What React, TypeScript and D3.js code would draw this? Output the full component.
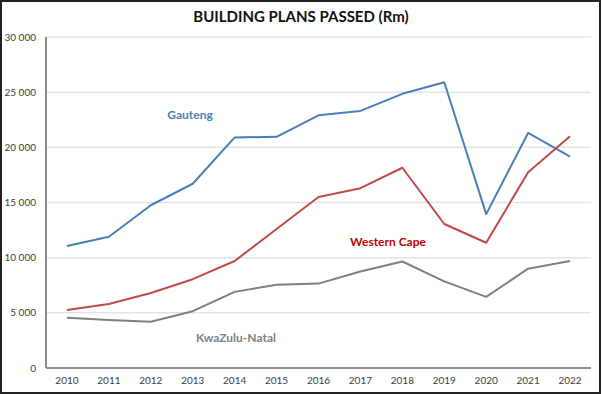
import { useEffect, useRef } from 'react'
import * as d3 from 'd3'

const years = ['2010', '2011', '2012', '2013', '2014', '2015', '2016', '2017', '2018', '2019', '2020', '2021', '2022']
const gauteng = [11050, 11900, 14750, 16700, 20900, 20950, 22900, 23300, 24850, 25900, 13950, 21300, 19150]
const westernCape = [5250, 5800, 6800, 8050, 9700, 12600, 15500, 16300, 18150, 13050, 11350, 17750, 21000]
const kwaZuluNatal = [4550, 4350, 4200, 5150, 6900, 7550, 7650, 8750, 9650, 7850, 6450, 9000, 9700]
const yTicks = [0, 5000, 10000, 15000, 20000, 25000, 30000]

const series = [
  { name: 'Gauteng', values: gauteng, color: '#4a7ebb', label: { x: 190, y: 115 }, labelColor: '#4a7ebb' },
  { name: 'Western Cape', values: westernCape, color: '#be4b48', label: { x: 388, y: 242 }, labelColor: '#c00000' },
  { name: 'KwaZulu-Natal', values: kwaZuluNatal, color: '#7f7f7f', label: { x: 236, y: 338 }, labelColor: '#7f7f7f' },
]

const W = 602
const H = 394
const FONT = 'Lato, "Open Sans", sans-serif'

function fmt(v: number) {
  return v === 0 ? '0' : d3.format(',')(v).replace(/,/g, ' ')
}

export default function App() {
  const svgRef = useRef<SVGSVGElement>(null)

  useEffect(() => {
    const svg = d3.select(svgRef.current)
    svg.selectAll('*').remove()

    const margin = { top: 37, right: 11, bottom: 26, left: 46 }
    const innerW = W - margin.left - margin.right
    const innerH = H - margin.top - margin.bottom

    svg.append('rect')
      .attr('x', 1).attr('y', 1).attr('width', W - 3).attr('height', H - 2)
      .attr('fill', '#fff').attr('stroke', '#222').attr('stroke-width', 2)

    svg.append('text')
      .attr('x', 301).attr('y', 22)
      .attr('text-anchor', 'middle')
      .attr('font-family', FONT).attr('font-weight', 700).attr('font-size', 15)
      .attr('fill', '#111')
      .text('BUILDING PLANS PASSED (Rm)')

    const g = svg.append('g').attr('transform', `translate(${margin.left},${margin.top})`)

    const x = d3.scaleBand().domain(years).range([0, innerW])
    const y = d3.scaleLinear().domain([0, 30000]).range([innerH, 0])

    g.append('g')
      .selectAll('line')
      .data(yTicks.filter(d => d > 0))
      .join('line')
      .attr('x1', 0).attr('x2', innerW)
      .attr('y1', d => y(d)).attr('y2', d => y(d))
      .attr('stroke', '#e3e3e3').attr('stroke-width', 1.5)

    g.append('line')
      .attr('x1', 0).attr('x2', innerW).attr('y1', innerH).attr('y2', innerH)
      .attr('stroke', '#8c8c8c').attr('stroke-width', 2)
    g.append('line')
      .attr('x1', 0).attr('x2', 0).attr('y1', 0).attr('y2', innerH)
      .attr('stroke', '#8c8c8c').attr('stroke-width', 2)

    g.append('g')
      .selectAll('text')
      .data(yTicks)
      .join('text')
      .attr('x', -10).attr('y', d => y(d)).attr('dy', '0.35em')
      .attr('text-anchor', 'end')
      .attr('font-family', FONT).attr('font-size', 10).attr('fill', '#404040')
      .text(fmt)

    g.append('g')
      .selectAll('text')
      .data(years)
      .join('text')
      .attr('x', d => (x(d) ?? 0) + x.bandwidth() / 2).attr('y', innerH + 16)
      .attr('text-anchor', 'middle')
      .attr('font-family', FONT).attr('font-size', 10).attr('fill', '#404040')
      .text(d => d)

    const line = d3.line<number>()
      .x((_, i) => (x(years[i]) ?? 0) + x.bandwidth() / 2)
      .y(d => y(d))

    series.forEach(s => {
      g.append('path')
        .datum(s.values)
        .attr('d', line)
        .attr('fill', 'none')
        .attr('stroke', s.color)
        .attr('stroke-width', 2)
        .attr('stroke-linejoin', 'round')

      svg.append('text')
        .attr('x', s.label.x).attr('y', s.label.y).attr('dy', '0.35em')
        .attr('text-anchor', 'middle')
        .attr('font-family', FONT).attr('font-weight', 700).attr('font-size', 12)
        .attr('fill', s.labelColor)
        .text(s.name)
    })
  }, [])

  return (
    <svg
      ref={svgRef}
      width={W}
      height={H}
      style={{ position: 'absolute', left: 0, top: 0, display: 'block' }}
    />
  )
}
